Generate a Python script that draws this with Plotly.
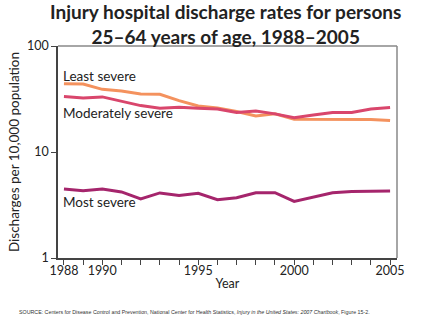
import math
import plotly.graph_objects as go

years = list(range(1988, 2006))
least_severe = [44, 43.7, 39, 37.7, 35.3, 35, 30.5, 27.2, 26, 24.1, 21.9, 22.9, 20.4, 20.3, 20.2, 20.2, 20.3, 19.8]
moderately_severe = [33.3, 32.4, 33.1, 30.2, 27.4, 25.9, 26.5, 25.9, 25.4, 23.6, 24.4, 22.9, 21.0, 22.3, 23.6, 23.6, 25.5, 26.3]
most_severe = [4.48, 4.32, 4.48, 4.2, 3.61, 4.11, 3.88, 4.07, 3.55, 3.71, 4.13, 4.13, 3.42, 3.77, 4.13, 4.23, 4.29, 4.29]

series = [
    ("Least severe", least_severe, "#F4925E"),
    ("Moderately severe", moderately_severe, "#D9466C"),
    ("Most severe", most_severe, "#A5256C"),
]

fig = go.Figure()
for name, vals, col in series:
    fig.add_trace(go.Scatter(x=years, y=vals, mode="lines", name=name,
                             line=dict(color=col, width=3), showlegend=False))

font_main = "Lato, 'Open Sans', sans-serif"
labels = [
    ("Least severe", 1988, 52.5),
    ("Moderately severe", 1988, 23.2),
    ("Most severe", 1988, 3.38),
]
for txt, x, y in labels:
    fig.add_annotation(x=x, y=math.log10(y), text=txt, showarrow=False,
                       xanchor="left", yanchor="middle", xshift=-3,
                       font=dict(family=font_main, size=13.5, color="#222"))

# title
fig.add_annotation(xref="paper", yref="paper", x=0.5, y=1.0, yshift=48, xanchor="center", yanchor="top",
                   showarrow=False, xshift=-2,
                   text="Injury hospital discharge rates for persons<br>25–64 years of age, 1988–2005",
                   font=dict(family=font_main, size=19, color="#222", weight="bold"))

fig.add_annotation(xref="paper", yref="paper", x=-0.121, y=-0.255, xanchor="left", yanchor="middle",
                   showarrow=False,
                   text="SOURCE: Centers for Disease Control and Prevention, National Center for Health Statistics, <i>Injury in the United States: 2007 Chartbook</i>, Figure 15-2.",
                   font=dict(family="Liberation Sans, Arial, sans-serif", size=5.3, color="#333"))

fig.update_layout(
    width=440, height=330,
    margin=dict(l=58, r=43, t=46, b=72),
    paper_bgcolor="white", plot_bgcolor="white",
    xaxis=dict(range=[1987.69, 2005.36], tickvals=[1988, 1990, 1995, 2000, 2005],
               ticks="outside", ticklen=0, showline=True, linecolor="#444", linewidth=1.5,
               mirror=False, showgrid=False, zeroline=False,
               minor=dict(tickvals=years, ticks="outside", ticklen=5, tickcolor="#444"),
               tickfont=dict(family=font_main, size=12.5, color="#222"),
               title=dict(text="Year", font=dict(family=font_main, size=12.5, color="#222"), standoff=2)),
    yaxis=dict(type="log", range=[0, 2], tickvals=[1, 10, 100], ticktext=["1", "10", "100"],
               ticks="outside", ticklen=5, tickcolor="#444", showline=True, linecolor="#444", linewidth=1.5,
               showgrid=False, zeroline=False,
               tickfont=dict(family=font_main, size=12.5, color="#222"),
               title=dict(text="Discharges per 10,000 population", font=dict(family=font_main, size=13.5, color="#222"), standoff=4)),
)
fig.add_shape(type="line", xref="paper", yref="paper", x0=0, x1=1, y0=1, y1=1, line=dict(color="#888", width=1.5))
fig.add_shape(type="line", xref="paper", yref="paper", x0=1, x1=1, y0=0, y1=1, line=dict(color="#888", width=1.5))

fig.write_html("out.html")
